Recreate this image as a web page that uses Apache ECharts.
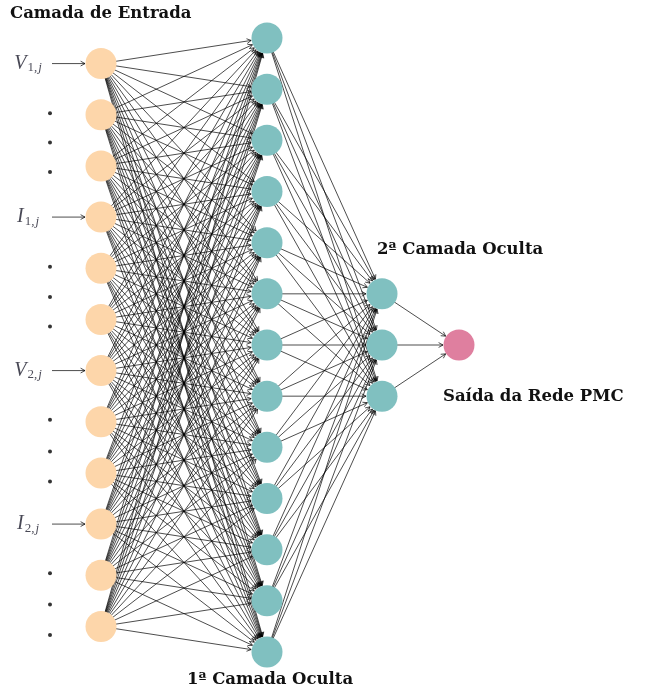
<!DOCTYPE html>
<html>
<head>
<meta charset="utf-8">
<script src="https://cdn.jsdelivr.net/npm/echarts@6/dist/echarts.min.js"></script>
<style>
html,body{margin:0;padding:0;background:#fff;}
#main{width:649px;height:693px;}
</style>
</head>
<body>
<div id="main"></div>
<script>
// ---- data ----
const layerNames = ['Camada de Entrada', '1ª Camada Oculta', '2ª Camada Oculta', 'Saída da Rede PMC'];
const layerX = [0, 1.66, 2.81, 3.58];
const inputY = [0.5, 1.5, 2.5, 3.5, 4.5, 5.5, 6.5, 7.5, 8.5, 9.5, 10.5, 11.5];
const hidden1Y = [0, 1, 2, 3, 4, 5, 6, 7, 8, 9, 10, 11, 12];
const hidden2Y = [5, 6, 7];
const outputY = [6];
const inputSignalNodes = [0, 3, 6, 9];
const inputSignalLetters = ['V', 'I', 'V', 'I'];
const inputSignalNums = ['1', '1', '2', '2'];
const inputDotsY = [1.47, 2.04, 2.62, 4.47, 5.06, 5.64, 7.46, 8.08, 8.67, 10.46, 11.07, 11.67];
const signalLabelX = -0.73;
const signalArrowStartX = -0.49;
const dotsX = -0.51;

const colors = ['#FDD6AA', '#80C0C0', '#80C0C0', '#DF7F9F'];
const nodeR = 15.5;

const layersY = [inputY, hidden1Y, hidden2Y, outputY];

// edges between consecutive layers (full connection)
const edges = [];
for (let l = 0; l < layersY.length - 1; l++) {
  layersY[l].forEach(function (ya) {
    layersY[l + 1].forEach(function (yb) {
      edges.push([layerX[l], ya, layerX[l + 1], yb]);
    });
  });
}
// input signal arrows (target is an input node)
inputSignalNodes.forEach(function (i) {
  edges.push([signalArrowStartX, inputY[i], layerX[0], inputY[i]]);
});

function renderArrow(params, api) {
  const p1 = api.coord([api.value(0), api.value(1)]);
  const p2 = api.coord([api.value(2), api.value(3)]);
  const dx = p2[0] - p1[0], dy = p2[1] - p1[1];
  const len = Math.sqrt(dx * dx + dy * dy);
  const ux = dx / len, uy = dy / len;
  const tip = [p2[0] - ux * (nodeR + 0.5), p2[1] - uy * (nodeR + 0.5)];
  const L = 5, a = 0.5;
  const ca = Math.cos(a), sa = Math.sin(a);
  const b1 = [tip[0] - L * (ux * ca - uy * sa), tip[1] - L * (uy * ca + ux * sa)];
  const b2 = [tip[0] - L * (ux * ca + uy * sa), tip[1] - L * (uy * ca - ux * sa)];
  const st = { stroke: '#000', lineWidth: 0.7, fill: null };
  return {
    type: 'group',
    children: [
      { type: 'line', shape: { x1: p1[0], y1: p1[1], x2: tip[0], y2: tip[1] }, style: st, silent: true },
      { type: 'polyline', shape: { points: [b1, tip, b2] }, style: st, silent: true }
    ]
  };
}

const nodeSeries = layersY.map(function (ys, l) {
  return {
    type: 'scatter',
    data: ys.map(function (y) { return [layerX[l], y]; }),
    symbolSize: nodeR * 2,
    itemStyle: { color: colors[l], opacity: 1 },
    z: 5,
    silent: true,
    clip: false
  };
});

const chart = echarts.init(document.getElementById('main'), null, { renderer: 'canvas' });
const titleFont = 'bold 16.5px "DejaVu Serif", serif';
const mathFont = '"Liberation Serif", serif';
chart.setOption({
  animation: false,
  backgroundColor: '#fff',
  grid: { left: 101, right: 190, top: 38, bottom: 41 },
  xAxis: { type: 'value', min: 0, max: 3.58, show: false },
  yAxis: { type: 'value', min: 0, max: 12, inverse: true, show: false },
  series: [
    {
      type: 'custom',
      renderItem: renderArrow,
      data: edges,
      encode: { x: [0, 2], y: [1, 3] },
      clip: false,
      silent: true,
      z: 2
    },
    ...nodeSeries,
    {
      type: 'scatter',
      data: inputDotsY.map(function (y) { return [dotsX, y]; }),
      symbolSize: 4,
      itemStyle: { color: '#000' },
      clip: false,
      silent: true
    },
    {
      type: 'scatter',
      data: inputSignalNodes.map(function (i, k) {
        return { value: [signalLabelX, inputY[i]], letter: inputSignalLetters[k], num: inputSignalNums[k] };
      }),
      symbolSize: 0,
      clip: false,
      silent: true,
      label: {
        show: true,
        position: 'inside',
        formatter: function (p) { return '{v|' + p.data.letter + '}{n|' + p.data.num + ',}{j|j}'; },
        rich: {
          v: { fontFamily: mathFont, fontStyle: 'italic', fontSize: 20, color: '#1a1a2a', padding: [0, 1, 0, 0] },
          n: { fontFamily: mathFont, fontStyle: 'normal', fontSize: 13, color: '#1a1a2a', padding: [8, 0, 0, 0] },
          j: { fontFamily: mathFont, fontStyle: 'italic', fontSize: 13, color: '#1a1a2a', padding: [8, 0, 0, 1] }
        }
      }
    }
  ],
  graphic: [
    { type: 'text', x: 10, y: 14, style: { text: layerNames[0], font: titleFont, fill: '#111', textAlign: 'left', textVerticalAlign: 'middle' } },
    { type: 'text', x: 270, y: 680, style: { text: layerNames[1], font: titleFont, fill: '#111', textAlign: 'center', textVerticalAlign: 'middle' } },
    { type: 'text', x: 377, y: 250, style: { text: layerNames[2], font: titleFont, fill: '#111', textAlign: 'left', textVerticalAlign: 'middle' } },
    { type: 'text', x: 443, y: 397, style: { text: layerNames[3], font: titleFont, fill: '#111', textAlign: 'left', textVerticalAlign: 'middle' } }
  ]
});
</script>
</body>
</html>
